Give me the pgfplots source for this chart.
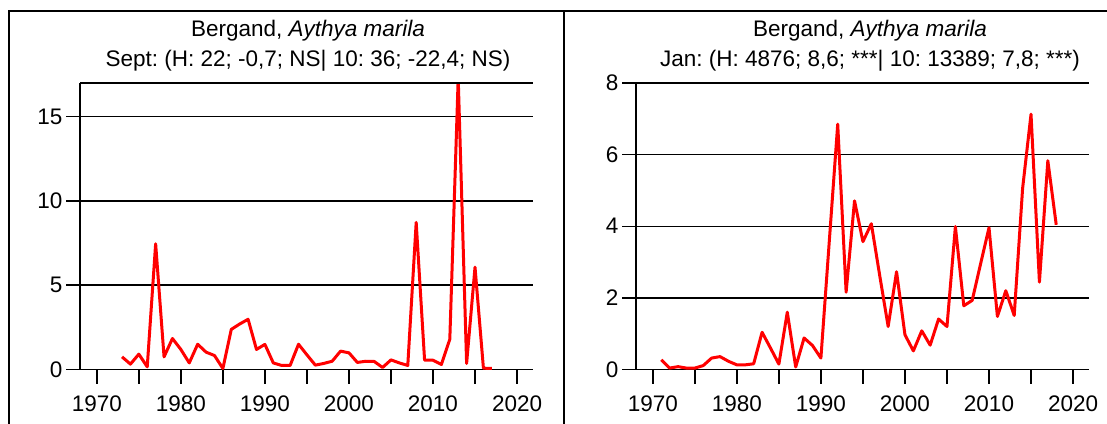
\documentclass[border=0pt]{standalone}
\usepackage{pgfplots}
\pgfplotsset{compat=1.18}
\usepackage{fontspec}
\setmainfont{Liberation Sans}
\frenchspacing
\definecolor{lred}{RGB}{255,0,0}
\pgfplotsset{
 myax/.style={
  scale only axis, width=453pt, height=286.5pt,
  xmin=1968, xmax=2021.9, ymin=0,
  axis lines=left, axis line style={-, line width=1.8pt, black},
  tick align=outside, major tick length=14pt,
  tick style={black, line width=1.5pt},
  ymajorgrids, grid style={black, line width=1.5pt},
  xtick={1970,1975,...,2020},
  xticklabels={1970,,1980,,1990,,2000,,2010,,2020},
  tick label style={font=\fontsize{22.5}{26}\selectfont},
  xticklabel style={yshift=-9pt},
  /pgf/number format/assume math mode=true,
  clip mode=individual,
 },
 myline/.style={lred, line width=3pt, line join=round, mark=none}
}
\pgfplotstableread{
year val
1973 0.75
1974 0.32
1975 0.91
1976 0.16
1977 7.46
1978 0.75
1979 1.84
1980 1.19
1981 0.39
1982 1.50
1983 1.03
1984 0.83
1985 0.06
1986 2.38
1987 2.70
1988 2.98
1989 1.19
1990 1.49
1991 0.39
1992 0.24
1993 0.24
1994 1.50
1995 0.87
1996 0.26
1997 0.36
1998 0.49
1999 1.09
2000 0.99
2001 0.42
2002 0.49
2003 0.48
2004 0.12
2005 0.57
2006 0.39
2007 0.24
2008 8.73
2009 0.55
2010 0.55
2011 0.30
2012 1.79
2013 17.3
2014 0.36
2015 6.07
2016 0.08
2017 0.06
}\septdata
\pgfplotstableread{
year val
1971 0.27
1972 0.04
1973 0.08
1974 0.04
1975 0.04
1976 0.11
1977 0.32
1978 0.36
1979 0.23
1980 0.13
1981 0.13
1982 0.16
1983 1.04
1984 0.60
1985 0.15
1986 1.60
1987 0.07
1988 0.88
1989 0.67
1990 0.32
1991 3.59
1992 6.85
1993 2.16
1994 4.71
1995 3.57
1996 4.07
1997 2.62
1998 1.20
1999 2.73
2000 0.97
2001 0.52
2002 1.08
2003 0.68
2004 1.41
2005 1.20
2006 3.99
2007 1.78
2008 1.93
2009 2.95
2010 3.96
2011 1.48
2012 2.20
2013 1.51
2014 5.06
2015 7.13
2016 2.44
2017 5.83
2018 4.04
}\jandata
\begin{document}
\begin{tikzpicture}
\path[use as bounding box] (0pt,0pt) rectangle (1107pt,-423pt);
\draw[line width=2pt] (8.5pt,-440pt) -- (8.5pt,-11pt) -- (1120pt,-11pt);
\draw[line width=2pt] (563.5pt,-11pt) -- (563.5pt,-440pt);
\node[anchor=base, font=\fontsize{22.5}{26}\selectfont] at (308pt,-36pt) {Bergand, \textit{Aythya marila}};
\node[anchor=base, font=\fontsize{22.5}{26}\selectfont] at (308pt,-66pt) {Sept: (H: 22; -0,7; NS| 10: 36; -22,4; NS)};
\node[anchor=base, font=\fontsize{22.5}{26}\selectfont] at (870pt,-36pt) {Bergand, \textit{Aythya marila}};
\node[anchor=base, font=\fontsize{22.5}{26}\selectfont] at (870pt,-66pt) {Jan: (H: 4876; 8,6; ***| 10: 13389; 7,8; ***)};
\begin{axis}[myax, at={(80pt,-369.5pt)}, anchor=south west, ymax=17, ytick={0,5,10,15}]
\addplot[myline] table[x=year, y=val] {\septdata};
\draw[line width=1.8pt] (rel axis cs:0,1) -- (rel axis cs:1,1);
\end{axis}
\begin{axis}[myax, at={(636pt,-369.5pt)}, anchor=south west, ymax=8, ytick={0,2,4,6,8}]
\addplot[myline] table[x=year, y=val] {\jandata};
\draw[line width=1.8pt] (rel axis cs:0,1) -- (rel axis cs:1,1);
\end{axis}
\end{tikzpicture}
\end{document}
